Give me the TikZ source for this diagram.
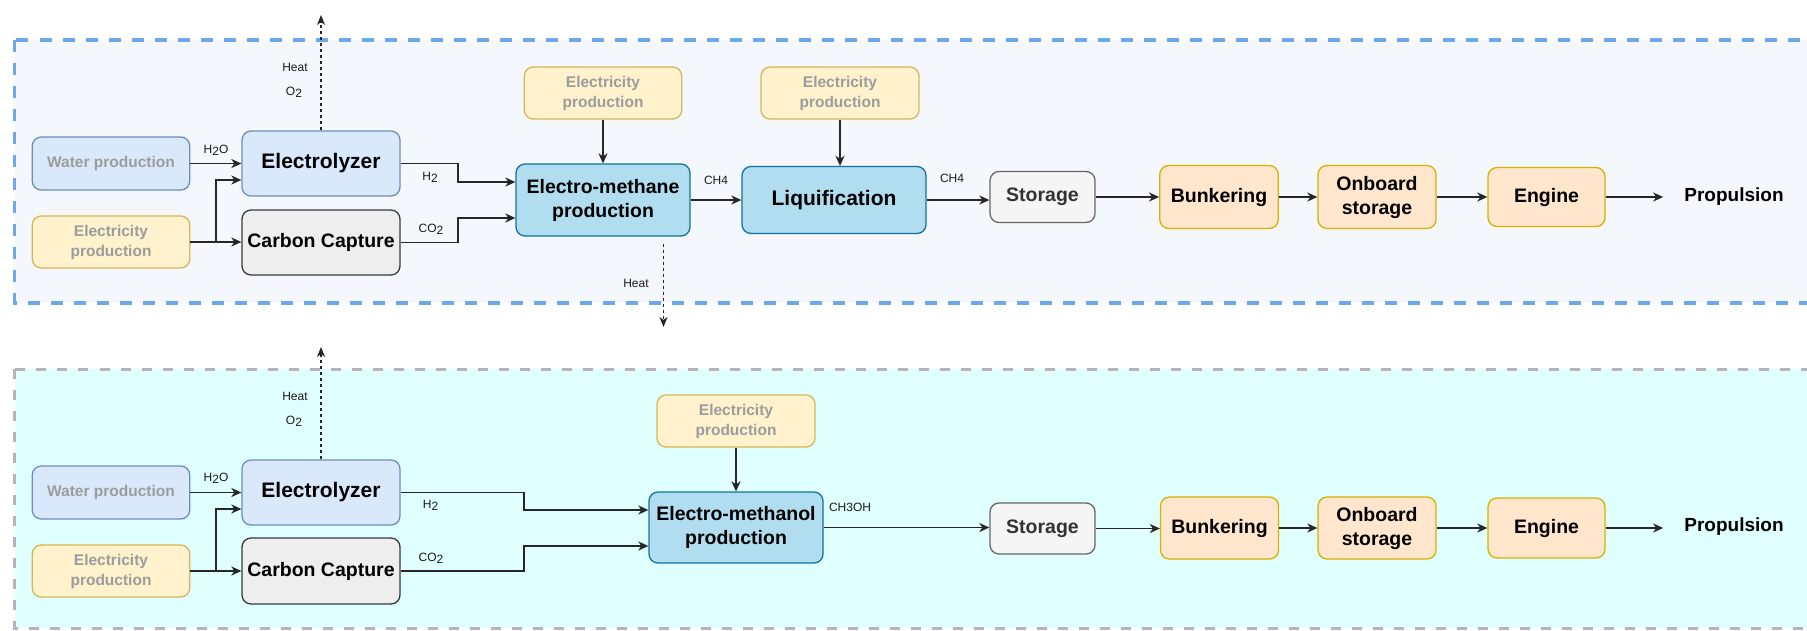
\documentclass[tikz,border=0pt]{standalone}
\usepackage{fontspec}
\setmainfont{Liberation Sans}
\usetikzlibrary{arrows.meta}
\definecolor{topfill}{HTML}{F4F7FB}
\definecolor{topdash}{HTML}{6FA8E6}
\definecolor{botfill}{HTML}{E0FFFF}
\definecolor{botdash}{HTML}{B6B2C2}
\definecolor{bfill}{HTML}{DAE8FC}
\definecolor{bdraw}{HTML}{6C8EBF}
\definecolor{yfill}{HTML}{FFF2CC}
\definecolor{ydraw}{HTML}{D6B656}
\definecolor{cfill}{HTML}{B1DDF0}
\definecolor{cdraw}{HTML}{10739E}
\definecolor{gfill}{HTML}{F5F5F5}
\definecolor{gdraw}{HTML}{666666}
\definecolor{ccfill}{HTML}{EEEEEE}
\definecolor{ccdraw}{HTML}{36393D}
\definecolor{ofill}{HTML}{FFE6CC}
\definecolor{odraw}{HTML}{D7B000}
\definecolor{graytext}{HTML}{9C9C9C}
\definecolor{lbl}{HTML}{1A1A1A}
\newcommand{\lowtwo}{\raisebox{-2pt}{2}}
\begin{document}
\begin{tikzpicture}[x=1pt,y=-1pt,
  box/.style={rounded corners=9pt, line width=1.3pt, align=center, inner sep=2pt,
    font=\bfseries\fontsize{19.5}{24}\selectfont},
  bigtext/.style={font=\bfseries\fontsize{21}{24}\selectfont},
  bluebox/.style={box, fill=bfill, draw=bdraw},
  srcblue/.style={box, fill=bfill, draw=bdraw, text=graytext, font=\bfseries\fontsize{15.5}{20}\selectfont},
  srcyel/.style={box, fill=yfill, draw=ydraw, text=graytext, font=\bfseries\fontsize{15.5}{20}\selectfont},
  cyanbox/.style={box, fill=cfill, draw=cdraw},
  ccbox/.style={box, fill=ccfill, draw=ccdraw},
  stbox/.style={box, fill=gfill, draw=gdraw, text=black!80},
  orbox/.style={box, fill=ofill, draw=odraw},
  propnode/.style={font=\bfseries\fontsize{19}{23}\selectfont, inner xsep=21pt},
  lab/.style={font=\fontsize{12}{14}\selectfont, text=lbl, inner sep=0pt},
  arr/.style={line width=1.6pt, draw=black!85, -{Stealth[length=10pt, width=9pt, inset=3pt]}},
  dasharr/.style={line width=1.3pt, draw=black!85, dash pattern=on 3pt off 3pt, -{Stealth[length=10pt, width=8pt, inset=3pt]}}
]
\useasboundingbox (0,0) rectangle (1807,630);
\clip (0,0) rectangle (1807,630);
\fill[white] (0,0) rectangle (1807,630);

% section frames
\draw[fill=topfill, draw=topdash, line width=3.5pt, dash pattern=on 12pt off 11pt]
  (14.5,40) rectangle (1840,303);
\draw[fill=botfill, draw=botdash, line width=3pt, dash pattern=on 10pt off 11pt]
  (14.5,369) rectangle (1840,628);

% ---------- top: electro-methane ----------
\node[srcblue, minimum width=157.5pt, minimum height=53pt] (wp1) at (111,163.5) {Water production};
\node[srcyel, minimum width=157.5pt, minimum height=52pt] (el1) at (111,242) {Electricity\\production};
\node[bluebox, bigtext, minimum width=158pt, minimum height=65pt] (ez1) at (321,163.5) {Electrolyzer};
\node[ccbox, minimum width=158pt, minimum height=65pt] (cc1) at (321,242.5) {Carbon Capture};
\node[srcyel, minimum width=157.5pt, minimum height=52pt] (ep1) at (603,93) {Electricity\\production};
\node[cyanbox, minimum width=174pt, minimum height=72pt] (em1) at (603,200) {Electro-methane\\production};
\node[srcyel, minimum width=158pt, minimum height=52pt] (ep2) at (840,93) {Electricity\\production};
\node[cyanbox, bigtext, minimum width=184pt, minimum height=67pt] (lq1) at (834,200) {Liquification};
\node[stbox, minimum width=105pt, minimum height=51pt] (st1) at (1042.5,197) {Storage};
\node[orbox, minimum width=118.5pt, minimum height=63pt] (bk1) at (1219,197) {Bunkering};
\node[orbox, minimum width=118pt, minimum height=63pt] (ob1) at (1377,197) {Onboard\\storage};
\node[orbox, minimum width=117pt, minimum height=59pt] (en1) at (1546.5,197) {Engine};
\node[propnode] (pr1) at (1734,197) {Propulsion};

\coordinate (b1) at (216,180);
\coordinate (h1) at (458,182);
\coordinate (c1) at (458,218);
\coordinate (up1) at (321,15);
\coordinate (hd1) at (663.5,327);

\draw[arr] (wp1.east) -- (wp1.east -| ez1.west);
\draw[arr] (el1.east) -- (el1.east -| cc1.west);
\draw[arr] (el1.east) -| (b1) -- (b1 -| ez1.west);
\draw[arr] (ez1.east) -| (h1) -- (h1 -| em1.west);
\draw[arr] (cc1.east) -| (c1) -- (c1 -| em1.west);
\draw[arr] (ep1.south) -- (em1.north);
\draw[arr] (ep2.south) -- (ep2.south |- lq1.north);
\draw[arr] (em1.east) -- (lq1.west);
\draw[arr] (lq1.east) -- (lq1.east -| st1.west);
\draw[arr] (st1.east) -- (bk1.west);
\draw[arr] (bk1.east) -- (ob1.west);
\draw[arr] (ob1.east) -- (en1.west);
\draw[arr] (en1.east) -- (pr1.west);
\draw[dasharr] (ez1.north) -- (up1);
\draw[dasharr] (em1.south -| hd1) ++(0,7) -- (hd1);

\node[lab] (t1) at (295,67) {Heat};
\node[lab] (t2) at (294,92) {O\lowtwo};
\node[lab] (t3) at (216,150) {H\lowtwo O};
\node[lab] (t4) at (430,177) {H\lowtwo};
\node[lab] (t5) at (431,229) {CO\lowtwo};
\node[lab] (t6) at (716,180) {CH4};
\node[lab] (t7) at (952,178) {CH4};
\node[lab] (t8) at (636,283) {Heat};

% ---------- bottom: electro-methanol ----------
\node[srcblue, minimum width=157.5pt, minimum height=53pt] (wp2) at (111,492.5) {Water production};
\node[srcyel, minimum width=157.5pt, minimum height=52pt] (el2) at (111,571) {Electricity\\production};
\node[bluebox, bigtext, minimum width=158pt, minimum height=65pt] (ez2) at (321,492.5) {Electrolyzer};
\node[ccbox, minimum width=158pt, minimum height=66pt] (cc2) at (321,571) {Carbon Capture};
\node[srcyel, minimum width=158pt, minimum height=52pt] (ep3) at (736,421) {Electricity\\production};
\node[cyanbox, minimum width=174pt, minimum height=71pt] (ml2) at (736,527.5) {Electro-methanol\\production};
\node[stbox, minimum width=105pt, minimum height=51pt] (st2) at (1042.5,528.5) {Storage};
\node[orbox, minimum width=118pt, minimum height=62pt] (bk2) at (1219.5,528) {Bunkering};
\node[orbox, minimum width=118pt, minimum height=62pt] (ob2) at (1377,528) {Onboard\\storage};
\node[orbox, minimum width=117pt, minimum height=60pt] (en2) at (1546.5,528) {Engine};
\node[propnode] (pr2) at (1734,527) {Propulsion};

\coordinate (b2) at (216,509);
\coordinate (h2) at (524,510);
\coordinate (c2) at (524,546);
\coordinate (up2) at (321,347);

\draw[arr] (wp2.east) -- (wp2.east -| ez2.west);
\draw[arr] (el2.east) -- (el2.east -| cc2.west);
\draw[arr] (el2.east) -| (b2) -- (b2 -| ez2.west);
\draw[arr] (ez2.east) -| (h2) -- (h2 -| ml2.west);
\draw[arr] (cc2.east) -| (c2) -- (c2 -| ml2.west);
\draw[arr] (ep3.south) -- (ml2.north);
\draw[arr] (ml2.east) -- (ml2.east -| st2.west);
\draw[arr] (st2.east) -- (st2.east -| bk2.west);
\draw[arr] (bk2.east) -- (ob2.west);
\draw[arr] (ob2.east) -- (en2.west);
\draw[arr] (en2.east) -- (en2.east -| pr2.west);
\draw[dasharr] (ez2.north) -- (up2);

\node[lab] (s1) at (295,396) {Heat};
\node[lab] (s2) at (294,421) {O\lowtwo};
\node[lab] (s3) at (216,478) {H\lowtwo O};
\node[lab] (s4) at (430.5,505) {H\lowtwo};
\node[lab] (s5) at (431,558) {CO\lowtwo};
\node[lab] (s6) at (850,507) {CH3OH};
\end{tikzpicture}
\end{document}
